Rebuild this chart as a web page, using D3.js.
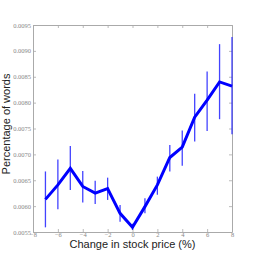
<!DOCTYPE html>
<html><head><meta charset="utf-8">
<script src="https://cdn.jsdelivr.net/npm/d3@7"></script>
<style>body{margin:0;background:#fff}svg{display:block}</style>
</head><body>
<script>
const changes = [-7,-6,-5,-4,-3,-2,-1,0,1,2,3,4,5,6,7,8];
const pct     = [0.00613,0.00641,0.00673,0.00638,0.00625,0.00634,0.00586,0.00559,0.00599,0.00641,0.00694,0.00714,0.00772,0.00805,0.00840,0.00832];
const errLow  = [0.00559,0.00594,0.00631,0.00607,0.00604,0.00612,0.00570,0.00554,0.00586,0.00622,0.00667,0.00678,0.00725,0.00745,0.00768,0.00739];
const errHigh = [0.00667,0.00690,0.00716,0.00668,0.00649,0.00655,0.00602,0.00566,0.00615,0.00657,0.00718,0.00746,0.00817,0.00860,0.00913,0.00927];
const xTicks = [-8,-6,-4,-2,0,2,4,6,8];
const yTicks = [0.0055,0.0060,0.0065,0.0070,0.0075,0.0080,0.0085,0.0090,0.0095];

const W=258,H=258, L=33, T=25, R=232, B=232;
const svg = d3.select("body").append("svg").attr("width",W).attr("height",H);
const x = d3.scaleLinear().domain([-8,8]).range([L,R]);
const y = d3.scaleLinear().domain([0.0055,0.0095]).range([B,T]);
const grey="#aaaaaa";
const fmtX = d=> d<0 ? "\u2212"+Math.abs(d) : String(d);

const axB = svg.append("g").attr("transform",`translate(0,${B})`)
  .call(d3.axisBottom(x).tickValues(xTicks).tickSizeInner(-3).tickSizeOuter(0).tickPadding(2).tickFormat(fmtX));
const axT = svg.append("g").attr("transform",`translate(0,${T})`)
  .call(d3.axisTop(x).tickValues(xTicks).tickSizeInner(-3).tickSizeOuter(0).tickFormat(""));
const axL = svg.append("g").attr("transform",`translate(${L},0)`)
  .call(d3.axisLeft(y).tickValues(yTicks).tickSizeInner(-3).tickSizeOuter(0).tickPadding(2).tickFormat(d3.format(".4f")));
const axR = svg.append("g").attr("transform",`translate(${R},0)`)
  .call(d3.axisRight(y).tickValues(yTicks).tickSizeInner(-3).tickSizeOuter(0).tickFormat(""));
[axB,axT,axL,axR].forEach(a=>{
  a.select(".domain").attr("stroke",grey).attr("stroke-width",1);
  a.selectAll(".tick line").attr("stroke",grey).attr("stroke-width",0.8);
  a.selectAll(".tick text").attr("fill","#888").attr("font-family","'Liberation Serif', serif").attr("font-size",6.5);
});
axB.selectAll(".tick text").attr("dy","0.4em");

svg.append("g").selectAll("line").data(changes).join("line")
  .attr("x1",(d)=>x(d)).attr("x2",(d)=>x(d))
  .attr("y1",(d,i)=>y(errLow[i])).attr("y2",(d,i)=>y(errHigh[i]))
  .attr("stroke","#2222ff").attr("stroke-width",1.3).attr("stroke-opacity",0.85);

const line = d3.line().x((d)=>x(d)).y((d,i)=>y(pct[i]));
svg.append("path").datum(changes).attr("d",line)
  .attr("fill","none").attr("stroke","#0000ff").attr("stroke-width",3).attr("stroke-linejoin","miter");

svg.append("text").attr("x",(L+R)/2).attr("y",248).attr("text-anchor","middle")
  .attr("font-family","'Liberation Sans', Arial, sans-serif").attr("font-size",11).attr("fill","#222")
  .text("Change in stock price (%)");
svg.append("text").attr("transform",`translate(10,124) rotate(-90)`).attr("text-anchor","middle")
  .attr("font-family","'Liberation Sans', Arial, sans-serif").attr("font-size",11).attr("fill","#222")
  .text("Percentage of words");
</script>
</body></html>
